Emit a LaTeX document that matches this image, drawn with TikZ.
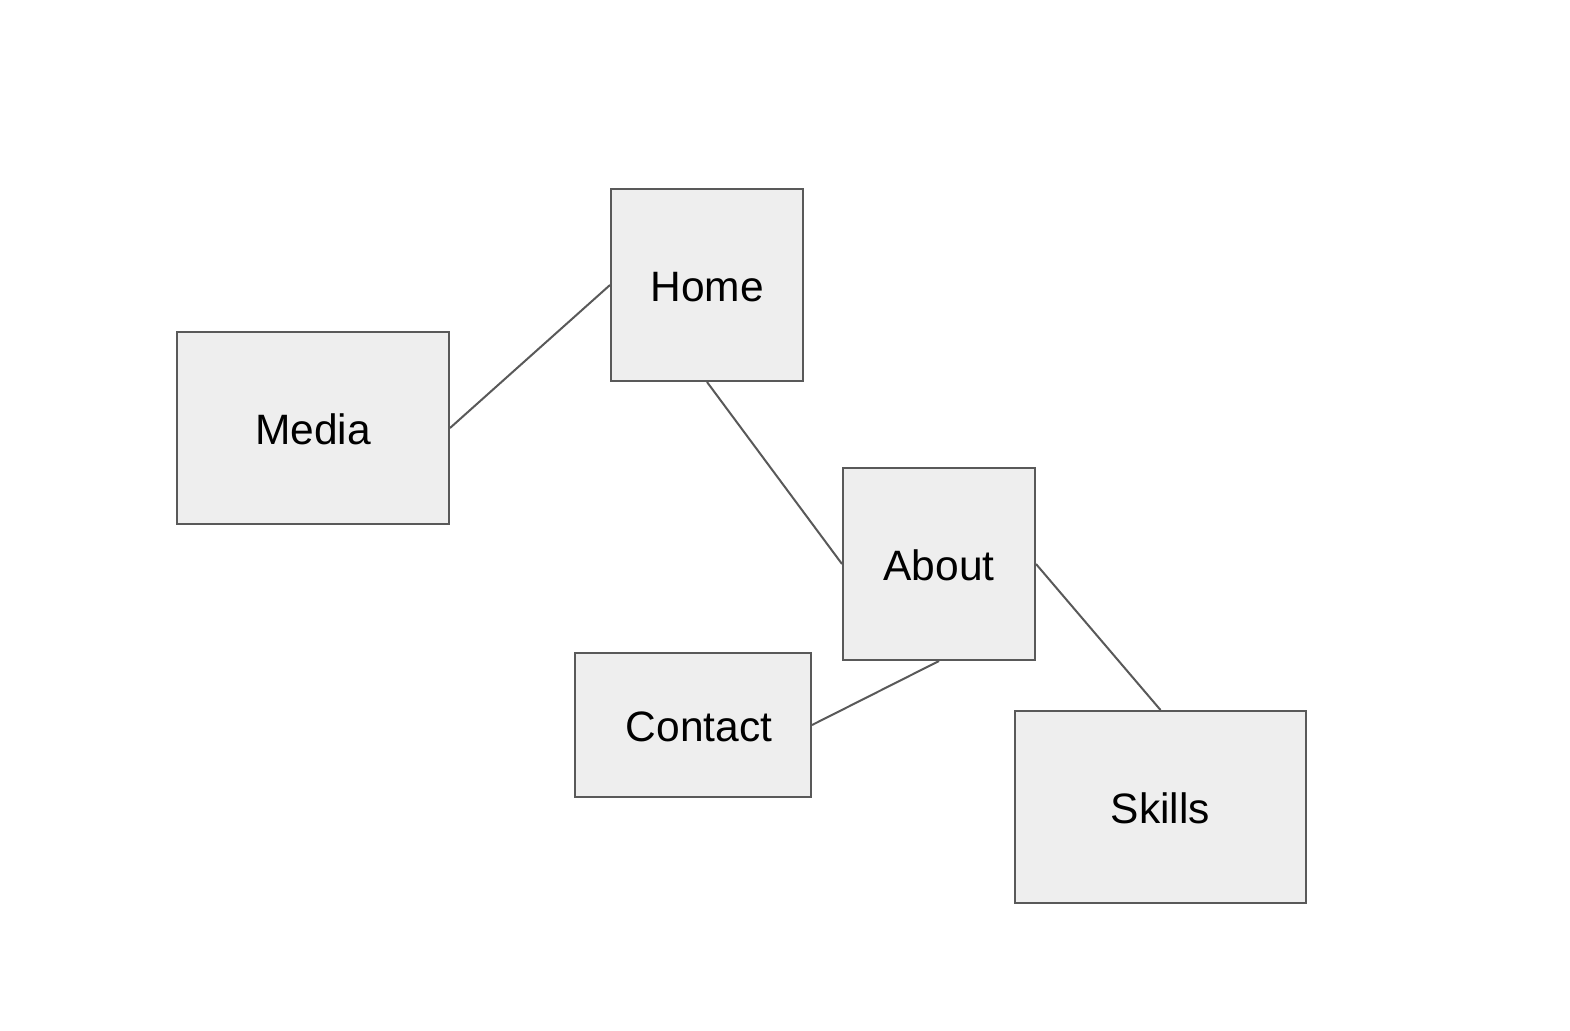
\documentclass[tikz,border=0pt]{standalone}
\usepackage{fontspec}
\setmainfont{Liberation Sans}
\definecolor{boxfill}{HTML}{EEEEEE}
\definecolor{boxline}{HTML}{595959}
\newcommand{\lbl}[1]{\raisebox{0pt}[33.5pt][0pt]{#1}}
\tikzset{
  pagebox/.style={draw=boxline, fill=boxfill, line width=2pt, inner sep=0pt,
    font=\fontsize{42.5}{50}\selectfont},
  link/.style={draw=boxline, line width=2pt}
}
\begin{document}
\begin{tikzpicture}[x=1pt,y=-1pt]
\useasboundingbox (0,0) rectangle (1570,1030);
\node[pagebox, minimum width=192pt, minimum height=192pt] (home) at (707,285) {\lbl{Home}};
\node[pagebox, minimum width=272pt, minimum height=192pt] (media) at (313,428) {\lbl{Media}};
\node[pagebox, minimum width=192pt, minimum height=192pt] (about) at (939,564) {\lbl{About}};
\node[pagebox, minimum width=236pt, minimum height=144pt] (contact) at (693,725) {\hspace*{12pt}\lbl{Contact}};
\node[pagebox, minimum width=291pt, minimum height=192pt] (skills) at (1160.5,807) {\lbl{Skills}};
\draw[link] (media.east) -- (home.west);
\draw[link] (home.south) -- (about.west);
\draw[link] (about.east) -- (skills.north);
\draw[link] (about.south) -- (contact.east);
\end{tikzpicture}
\end{document}
